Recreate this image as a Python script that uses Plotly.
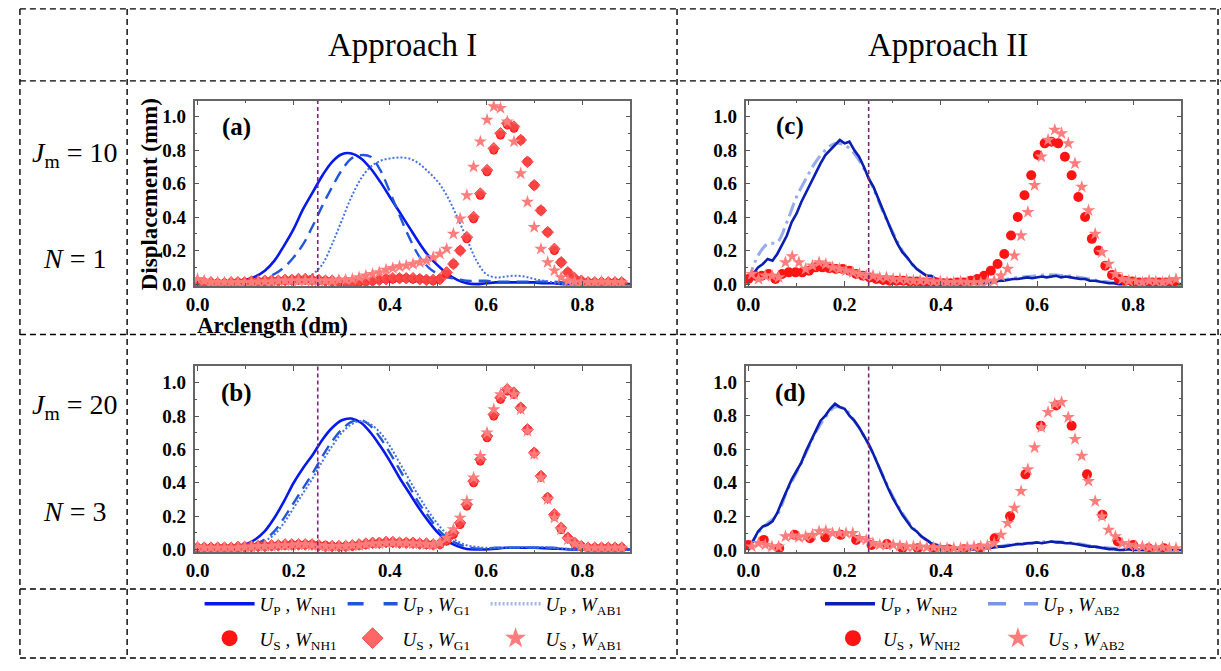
import plotly.graph_objects as go

# ---------------- data ----------------
x_line_coarse = [round(0.02 * i, 2) for i in range(46)]      # 0.00 .. 0.90
x_line_fine = [round(0.01 * i, 2) for i in range(91)]        # 0.00 .. 0.90
x_mark = [round(0.014 * i, 3) for i in range(64)]            # marker stations
x_mark_off = [round(0.007 + 0.014 * i, 3) for i in range(64)]
x_mark_sparse = [round(0.032 * k, 3) for k in range(28)]

cutoff_x = 0.25

# Panel (a): Approach I, Jm=10, N=1
a_up_nh1 = [0.0, 0.0, 0.0, 0.005, 0.01, 0.025, 0.045, 0.08, 0.14, 0.23, 0.33, 0.45, 0.55, 0.65, 0.73, 0.775,
            0.78, 0.75, 0.69, 0.61, 0.52, 0.43, 0.34, 0.25, 0.17, 0.11, 0.06, 0.025, 0.005, 0.0, 0.005, 0.01,
            0.01, 0.01, 0.01, 0.01, 0.005, 0.005, 0.0, 0.0, 0.0, 0.0, 0.0, 0.0, 0.0, 0.0]
a_up_g1 = [0.0, 0.0, 0.0, 0.0, 0.005, 0.01, 0.02, 0.035, 0.06, 0.10, 0.16, 0.24, 0.35, 0.47, 0.58, 0.68,
           0.75, 0.77, 0.76, 0.68, 0.55, 0.41, 0.28, 0.17, 0.10, 0.06, 0.04, 0.03, 0.02, 0.02, 0.02, 0.015,
           0.015, 0.015, 0.015, 0.015, 0.015, 0.015, 0.01, 0.01, 0.005, 0.005, 0.0, 0.0, 0.0, 0.0]
a_up_ab1 = [0.0, 0.0, 0.0, 0.0, 0.0, 0.0, 0.0, 0.0, 0.0, 0.005, 0.015, 0.03, 0.06, 0.12, 0.24, 0.38,
            0.52, 0.63, 0.70, 0.735, 0.75, 0.755, 0.75, 0.72, 0.67, 0.61, 0.52, 0.40, 0.27, 0.14, 0.06, 0.04,
            0.045, 0.05, 0.045, 0.03, 0.02, 0.01, 0.0, 0.0, 0.0, 0.0, 0.0, 0.0, 0.0, 0.0]
a_us_nh1 = [0.01, 0.01, 0.005, 0.005, 0.005, 0.005, 0.01, 0.01, 0.01, 0.015,
            0.015, 0.02, 0.02, 0.02, 0.025, 0.025, 0.025, 0.025, 0.02, 0.02,
            0.015, 0.015, 0.01, 0.01, 0.01, 0.015, 0.02, 0.025, 0.03, 0.03,
            0.035, 0.035, 0.03, 0.03, 0.025, 0.02, 0.03, 0.06, 0.12, 0.20,
            0.27, 0.39, 0.53, 0.67, 0.80, 0.89, 0.95, 0.93, 0.86, 0.73,
            0.59, 0.44, 0.31, 0.20, 0.13, 0.07, 0.03, 0.015, 0.01, 0.01,
            0.01, 0.01, 0.01, 0.01]
a_us_g1 = [0.01, 0.01, 0.01, 0.005, 0.005, 0.01, 0.01, 0.01, 0.015, 0.015,
           0.02, 0.02, 0.02, 0.025, 0.025, 0.03, 0.03, 0.025, 0.025, 0.02,
           0.02, 0.015, 0.015, 0.01, 0.015, 0.015, 0.02, 0.025, 0.03, 0.035,
           0.035, 0.035, 0.035, 0.03, 0.025, 0.025, 0.03, 0.07, 0.12, 0.20,
           0.28, 0.40, 0.54, 0.68, 0.81, 0.90, 0.96, 0.94, 0.86, 0.73,
           0.59, 0.44, 0.31, 0.21, 0.13, 0.07, 0.035, 0.02, 0.01, 0.01,
           0.01, 0.01, 0.01, 0.01]
a_us_ab1 = [0.03, 0.02, 0.01, 0.01, 0.01, 0.01, 0.01, 0.01, 0.01, 0.015,
            0.015, 0.015, 0.02, 0.02, 0.02, 0.02, 0.02, 0.02, 0.02, 0.02,
            0.02, 0.025, 0.025, 0.03, 0.04, 0.05, 0.06, 0.07, 0.085, 0.095,
            0.105, 0.11, 0.12, 0.13, 0.14, 0.16, 0.18, 0.21, 0.30, 0.39,
            0.53, 0.70, 0.85, 0.98, 1.06, 1.05, 0.97, 0.85, 0.66, 0.49,
            0.34, 0.21, 0.13, 0.08, 0.04, 0.02, 0.015, 0.01, 0.01, 0.01,
            0.015, 0.01, 0.01, 0.01]

# Panel (b): Approach I, Jm=20, N=3
b_up_nh1 = [0.0, 0.0, 0.0, 0.005, 0.015, 0.03, 0.06, 0.11, 0.19, 0.29, 0.40, 0.49, 0.57, 0.66, 0.73, 0.775,
            0.785, 0.76, 0.70, 0.62, 0.53, 0.43, 0.34, 0.25, 0.17, 0.10, 0.05, 0.02, 0.003, 0.0, 0.0, 0.005,
            0.01, 0.01, 0.01, 0.01, 0.008, 0.005, 0.003, 0.0, 0.0, 0.0, 0.0, 0.0, 0.0, 0.0]
b_up_g1 = [0.0, 0.0, 0.0, 0.0, 0.005, 0.01, 0.03, 0.06, 0.11, 0.19, 0.28, 0.37, 0.46, 0.56, 0.65, 0.72,
           0.765, 0.775, 0.74, 0.67, 0.58, 0.48, 0.38, 0.28, 0.20, 0.12, 0.07, 0.035, 0.015, 0.005, 0.005, 0.01,
           0.01, 0.01, 0.01, 0.01, 0.01, 0.01, 0.005, 0.0, 0.0, 0.0, 0.0, 0.0, 0.0, 0.0]
b_up_ab1 = [0.0, 0.0, 0.0, 0.0, 0.005, 0.01, 0.02, 0.05, 0.09, 0.16, 0.25, 0.34, 0.43, 0.53, 0.62, 0.70,
            0.75, 0.77, 0.75, 0.70, 0.62, 0.52, 0.42, 0.32, 0.23, 0.15, 0.09, 0.05, 0.025, 0.015, 0.01, 0.01,
            0.01, 0.015, 0.015, 0.015, 0.015, 0.01, 0.005, 0.0, 0.0, 0.0, 0.0, 0.0, 0.0, 0.0]
b_us_nh1 = [0.01, 0.01, 0.01, 0.01, 0.01, 0.01, 0.01, 0.015, 0.015, 0.02,
            0.02, 0.02, 0.025, 0.025, 0.03, 0.03, 0.03, 0.03, 0.025, 0.025,
            0.02, 0.02, 0.02, 0.02, 0.025, 0.03, 0.035, 0.04, 0.04, 0.04,
            0.04, 0.04, 0.04, 0.035, 0.03, 0.03, 0.03, 0.05, 0.09, 0.15,
            0.26, 0.40, 0.53, 0.67, 0.80, 0.90, 0.95, 0.93, 0.85, 0.72,
            0.58, 0.44, 0.31, 0.20, 0.12, 0.07, 0.035, 0.02, 0.01, 0.01,
            0.01, 0.01, 0.01, 0.01]
b_us_g1 = [0.01, 0.01, 0.01, 0.01, 0.01, 0.01, 0.015, 0.015, 0.02, 0.02,
           0.02, 0.025, 0.025, 0.03, 0.03, 0.03, 0.03, 0.03, 0.025, 0.02,
           0.02, 0.02, 0.02, 0.025, 0.03, 0.035, 0.04, 0.04, 0.045, 0.045,
           0.04, 0.04, 0.04, 0.035, 0.035, 0.03, 0.035, 0.06, 0.10, 0.16,
           0.27, 0.41, 0.54, 0.68, 0.81, 0.91, 0.96, 0.94, 0.85, 0.72,
           0.58, 0.44, 0.31, 0.21, 0.13, 0.07, 0.04, 0.02, 0.01, 0.01,
           0.01, 0.01, 0.01, 0.01]
b_us_ab1 = [0.015, 0.01, 0.01, 0.01, 0.01, 0.01, 0.01, 0.015, 0.015, 0.02,
            0.02, 0.02, 0.025, 0.025, 0.025, 0.03, 0.03, 0.025, 0.025, 0.02,
            0.02, 0.02, 0.02, 0.025, 0.025, 0.03, 0.035, 0.035, 0.04, 0.04,
            0.04, 0.04, 0.035, 0.035, 0.03, 0.03, 0.04, 0.07, 0.12, 0.19,
            0.29, 0.43, 0.56, 0.70, 0.84, 0.93, 0.96, 0.93, 0.84, 0.71,
            0.57, 0.43, 0.30, 0.19, 0.12, 0.06, 0.035, 0.02, 0.01, 0.01,
            0.01, 0.01, 0.01, 0.01]

# Panel (c): Approach II, Jm=10, N=1
c_up_nh2 = [0.01, 0.06, 0.10, 0.12, 0.15, 0.14, 0.18, 0.24, 0.29, 0.37,
            0.42, 0.49, 0.55, 0.61, 0.66, 0.72, 0.77, 0.80, 0.83, 0.86,
            0.84, 0.85, 0.80, 0.76, 0.70, 0.63, 0.58, 0.51, 0.43, 0.36,
            0.30, 0.24, 0.19, 0.16, 0.12, 0.09, 0.07, 0.05, 0.05, 0.03,
            0.02, 0.015, 0.01, 0.01, 0.005, 0.005, 0.0, 0.005, 0.0, 0.005,
            0.01, 0.01, 0.02, 0.02, 0.025, 0.03, 0.03, 0.035, 0.04, 0.035,
            0.04, 0.045, 0.04, 0.045, 0.05, 0.04, 0.045, 0.04, 0.035, 0.03,
            0.03, 0.02, 0.02, 0.015, 0.01, 0.005, 0.005, 0.0, 0.0, 0.005,
            0.0, 0.0, 0.0, 0.0, 0.0, 0.0, 0.0, 0.0, 0.0, 0.0, 0.0]
c_up_ab2 = [0.02, 0.17, 0.24, 0.25, 0.37, 0.52, 0.63, 0.73, 0.80, 0.84, 0.83, 0.78, 0.69, 0.57, 0.43, 0.31,
            0.20, 0.12, 0.07, 0.04, 0.025, 0.015, 0.01, 0.01, 0.01, 0.015, 0.02, 0.03, 0.04, 0.045, 0.05, 0.055,
            0.055, 0.05, 0.045, 0.035, 0.025, 0.015, 0.01, 0.01, 0.005, 0.005, 0.0, 0.0, 0.0, 0.0]
c_us_nh2 = [0.03, 0.05, 0.05, 0.06, 0.03, 0.06, 0.07, 0.07, 0.07, 0.08,
            0.10, 0.10, 0.095, 0.09, 0.09, 0.08, 0.06, 0.05, 0.04, 0.03,
            0.025, 0.02, 0.02, 0.02, 0.015, 0.015, 0.01, 0.01, 0.01, 0.005,
            0.005, 0.01, 0.01, 0.02, 0.03, 0.05, 0.08, 0.12, 0.18, 0.29,
            0.40, 0.53, 0.65, 0.77, 0.84, 0.85, 0.84, 0.76, 0.65, 0.52,
            0.40, 0.27, 0.20, 0.11, 0.055, 0.03, 0.02, 0.015, 0.01, 0.01,
            0.01, 0.01, 0.01, 0.01]
c_us_ab2 = [0.06, 0.03, 0.05, 0.05, 0.04, 0.13, 0.165, 0.13, 0.09, 0.11,
            0.13, 0.12, 0.10, 0.09, 0.08, 0.07, 0.06, 0.05, 0.05, 0.04,
            0.04, 0.03, 0.03, 0.025, 0.02, 0.02, 0.02, 0.015, 0.015, 0.01,
            0.01, 0.015, 0.01, 0.01, 0.01, 0.015, 0.02, 0.05, 0.09, 0.17,
            0.29, 0.43, 0.59, 0.76, 0.86, 0.92, 0.90, 0.84, 0.72, 0.58,
            0.44, 0.30, 0.19, 0.12, 0.06, 0.03, 0.02, 0.015, 0.01, 0.02,
            0.015, 0.01, 0.02, 0.03]

# Panel (d): Approach II, Jm=20, N=3
d_up_nh2 = [0.0, 0.06, 0.11, 0.14, 0.15, 0.17, 0.22, 0.29, 0.36, 0.42,
            0.47, 0.52, 0.59, 0.65, 0.71, 0.77, 0.80, 0.84, 0.87, 0.85,
            0.84, 0.80, 0.77, 0.73, 0.68, 0.63, 0.57, 0.50, 0.43, 0.37,
            0.31, 0.26, 0.21, 0.17, 0.13, 0.11, 0.08, 0.06, 0.04, 0.03,
            0.02, 0.015, 0.01, 0.01, 0.005, 0.005, 0.0, 0.005, 0.005, 0.01,
            0.01, 0.015, 0.02, 0.02, 0.025, 0.03, 0.035, 0.035, 0.04, 0.04,
            0.045, 0.04, 0.045, 0.05, 0.045, 0.045, 0.04, 0.04, 0.035, 0.03,
            0.025, 0.02, 0.02, 0.015, 0.01, 0.005, 0.005, 0.0, 0.0, 0.005,
            0.0, 0.0, 0.0, 0.0, 0.0, 0.0, 0.0, 0.0, 0.0, 0.0, 0.0]
d_up_ab2 = [0.01, 0.10, 0.16, 0.21, 0.35, 0.46, 0.58, 0.70, 0.79, 0.85, 0.84, 0.77, 0.68, 0.57, 0.44, 0.32,
            0.22, 0.14, 0.08, 0.045, 0.025, 0.015, 0.01, 0.01, 0.01, 0.015, 0.02, 0.03, 0.035, 0.04, 0.045, 0.05,
            0.05, 0.045, 0.04, 0.03, 0.02, 0.015, 0.01, 0.005, 0.005, 0.0, 0.0, 0.0, 0.0, 0.0]
d_us_nh2 = [0.03, 0.06, 0.01, 0.09, 0.07, 0.075, 0.09, 0.06, 0.03, 0.035, 0.01, 0.01, 0.01, 0.005,
            0.005, 0.01, 0.07, 0.20, 0.45, 0.74, 0.86, 0.74, 0.45, 0.21, 0.05, 0.03, 0.01, 0.01]
d_us_ab2 = [0.02, 0.04, 0.03, 0.02, 0.02, 0.08, 0.085, 0.075, 0.08, 0.09,
            0.11, 0.115, 0.10, 0.10, 0.10, 0.10, 0.07, 0.06, 0.04, 0.03,
            0.03, 0.03, 0.025, 0.02, 0.02, 0.02, 0.015, 0.015, 0.01, 0.01,
            0.01, 0.01, 0.015, 0.02, 0.02, 0.025, 0.04, 0.09, 0.16, 0.25,
            0.35, 0.48, 0.61, 0.73, 0.82, 0.87, 0.88, 0.79, 0.66, 0.56,
            0.41, 0.29, 0.20, 0.12, 0.08, 0.04, 0.03, 0.02, 0.02, 0.015,
            0.01, 0.015, 0.01, 0.01]

# legend labels
lab_up_nh1 = "<i>U</i><sub>P</sub> , <i>W</i><sub>NH1</sub>"
lab_up_g1 = "<i>U</i><sub>P</sub> , <i>W</i><sub>G1</sub>"
lab_up_ab1 = "<i>U</i><sub>P</sub> , <i>W</i><sub>AB1</sub>"
lab_us_nh1 = "<i>U</i><sub>S</sub> , <i>W</i><sub>NH1</sub>"
lab_us_g1 = "<i>U</i><sub>S</sub> , <i>W</i><sub>G1</sub>"
lab_us_ab1 = "<i>U</i><sub>S</sub> , <i>W</i><sub>AB1</sub>"
lab_up_nh2 = "<i>U</i><sub>P</sub> , <i>W</i><sub>NH2</sub>"
lab_up_ab2 = "<i>U</i><sub>P</sub> , <i>W</i><sub>AB2</sub>"
lab_us_nh2 = "<i>U</i><sub>S</sub> , <i>W</i><sub>NH2</sub>"
lab_us_ab2 = "<i>U</i><sub>S</sub> , <i>W</i><sub>AB2</sub>"

# ---------------- styling ----------------
W, H = 1221, 671
SERIF = "Liberation Serif"


def px(v):  # window pixel -> paper x
    return v / W


def py(v):  # window pixel -> paper y
    return 1 - v / H


C_NH1 = "rgb(5,25,235)"
C_G1 = "rgb(35,85,215)"
C_AB1 = "rgb(70,115,225)"
C_NH2 = "rgb(10,30,175)"
C_AB2 = "rgb(150,172,235)"
C_CIRC = "rgb(255,20,20)"
C_STAR = "rgb(255,125,125)"
C_VLINE = "rgb(120,40,120)"

LINE_NH1 = dict(color=C_NH1, width=2.6)
LINE_G1 = dict(color=C_G1, width=2.4, dash="12px,7px")
LINE_AB1 = dict(color=C_AB1, width=2.0, dash="2px,2px")
LINE_NH2 = dict(color=C_NH2, width=2.6)
LINE_AB2 = dict(color=C_AB2, width=3.0, dash="14px,5px,3px,5px")

MK_CIRC = dict(symbol="circle", color=C_CIRC, size=9)
MK_DIAM = dict(symbol="diamond", color="rgba(255,75,75,0.85)", size=9,
               line=dict(color="rgb(235,50,50)", width=0.8))
MK_STAR = dict(symbol="star", color=C_STAR, size=10)

fig = go.Figure()

panels = [
    ("x", "y", "I", (a_up_nh1, a_up_g1, a_up_ab1), (a_us_nh1, a_us_g1, a_us_ab1)),
    ("x2", "y2", "I", (b_up_nh1, b_up_g1, b_up_ab1), (b_us_nh1, b_us_g1, b_us_ab1)),
    ("x3", "y3", "II", (c_up_nh2, c_up_ab2), (c_us_nh2, c_us_ab2)),
    ("x4", "y4", "II", (d_up_nh2, d_up_ab2), (d_us_nh2, d_us_ab2)),
]

for xa, ya, appr, lines, marks in panels:
    if appr == "I":
        up_nh, up_g, up_ab = lines
        us_nh, us_g, us_ab = marks
        fig.add_trace(go.Scatter(x=x_line_coarse, y=up_nh, mode="lines", line=LINE_NH1, line_shape="spline",
                                 xaxis=xa, yaxis=ya, showlegend=False))
        fig.add_trace(go.Scatter(x=x_line_coarse, y=up_g, mode="lines", line=LINE_G1, line_shape="spline",
                                 xaxis=xa, yaxis=ya, showlegend=False))
        fig.add_trace(go.Scatter(x=x_line_coarse, y=up_ab, mode="lines", line=LINE_AB1, line_shape="spline",
                                 xaxis=xa, yaxis=ya, showlegend=False))
        fig.add_trace(go.Scatter(x=x_mark, y=us_nh, mode="markers", marker=MK_CIRC,
                                 xaxis=xa, yaxis=ya, showlegend=False))
        fig.add_trace(go.Scatter(x=x_mark, y=us_g, mode="markers", marker=MK_DIAM,
                                 xaxis=xa, yaxis=ya, showlegend=False))
        fig.add_trace(go.Scatter(x=x_mark, y=us_ab, mode="markers", marker=MK_STAR,
                                 xaxis=xa, yaxis=ya, showlegend=False))
    else:
        up_nh, up_ab = lines
        us_nh, us_ab = marks
        fig.add_trace(go.Scatter(x=x_line_coarse, y=up_ab, mode="lines", line=LINE_AB2, line_shape="spline",
                                 xaxis=xa, yaxis=ya, showlegend=False))
        fig.add_trace(go.Scatter(x=x_line_fine, y=up_nh, mode="lines", line=LINE_NH2,
                                 xaxis=xa, yaxis=ya, showlegend=False))
        xc = x_mark if xa == "x3" else x_mark_sparse
        fig.add_trace(go.Scatter(x=xc, y=us_nh, mode="markers", marker=dict(MK_CIRC, size=10),
                                 xaxis=xa, yaxis=ya, showlegend=False))
        fig.add_trace(go.Scatter(x=x_mark_off, y=us_ab, mode="markers", marker=MK_STAR,
                                 xaxis=xa, yaxis=ya, showlegend=False))


# legend-only entries (no data)
def leg_line(name, line, legend):
    fig.add_trace(go.Scatter(x=[None], y=[None], mode="lines", name=name, line=dict(line, width=3.5),
                             legend=legend, showlegend=True, xaxis="x", yaxis="y"))


def leg_mark(name, marker, legend):
    fig.add_trace(go.Scatter(x=[None], y=[None], mode="markers", name=name, marker=dict(marker, size=16),
                             legend=legend, showlegend=True, xaxis="x", yaxis="y"))


leg_line(lab_up_nh1, LINE_NH1, "legend")
leg_line(lab_up_g1, dict(LINE_G1, dash="16px,20px"), "legend")
leg_line(lab_up_ab1, dict(LINE_AB1, color="rgb(160,180,240)"), "legend")
leg_mark(lab_us_nh1, MK_CIRC, "legend2")
leg_mark(lab_us_g1, MK_DIAM, "legend2")
leg_mark(lab_us_ab1, MK_STAR, "legend2")
leg_line(lab_up_nh2, LINE_NH2, "legend3")
leg_line(lab_up_ab2, dict(LINE_AB2, color="rgb(120,150,230)", dash="18px,18px"), "legend3")
leg_mark(lab_us_nh2, MK_CIRC, "legend4")
leg_mark(lab_us_ab2, MK_STAR, "legend4")

# ---------------- axes ----------------
TICKFONT = dict(family=SERIF, size=19, color="black", weight="bold")


def xax(domain, anchor):
    return dict(domain=domain, anchor=anchor, range=[-0.006, 0.9], tick0=0, dtick=0.2, tickformat=".1f",
                ticks="inside", ticklen=5, tickwidth=1.2, tickcolor="#555",
                minor=dict(dtick=0.1, ticks="inside", ticklen=3, tickcolor="#555"),
                showline=True, linecolor="#666", linewidth=1.5, mirror="ticks",
                showgrid=False, zeroline=False, tickfont=TICKFONT, ticklabelstandoff=0)


def yax(domain, anchor, rng):
    return dict(domain=domain, anchor=anchor, range=rng, tick0=0, dtick=0.2, tickformat=".1f",
                ticks="inside", ticklen=5, tickwidth=1.2, tickcolor="#555",
                minor=dict(dtick=0.1, ticks="inside", ticklen=3, tickcolor="#555"),
                showline=True, linecolor="#666", linewidth=1.5, mirror="ticks",
                showgrid=False, zeroline=False, tickfont=TICKFONT, ticklabelstandoff=3)


dom_x_left = [px(187), px(626)]
dom_x_right = [px(742), px(1181)]
dom_y_top = [py(290), py(102)]
dom_y_bot = [py(560), py(371)]

layout = dict(
    width=W, height=H, margin=dict(l=0, r=0, t=0, b=0),
    paper_bgcolor="white", plot_bgcolor="white",
    xaxis=xax(dom_x_left, "y"), yaxis=yax(dom_y_top, "x", [-0.012, 1.095]),
    xaxis2=xax(dom_x_left, "y2"), yaxis2=yax(dom_y_bot, "x2", [-0.018, 1.1]),
    xaxis3=xax(dom_x_right, "y3"), yaxis3=yax(dom_y_top, "x3", [-0.012, 1.095]),
    xaxis4=xax(dom_x_right, "y4"), yaxis4=yax(dom_y_bot, "x4", [-0.015, 1.095]),
)

LEGFONT = dict(family=SERIF, size=19, color="black")
common_leg = dict(orientation="h", xanchor="left", yanchor="middle", itemwidth=50, font=LEGFONT,
                  bgcolor="rgba(0,0,0,0)", borderwidth=0, itemsizing="trace", tracegroupgap=0)
layout["legend"] = dict(common_leg, x=px(192), y=py(612), entrywidth=78)
layout["legend2"] = dict(common_leg, x=px(192), y=py(647), entrywidth=78)
layout["legend3"] = dict(common_leg, x=px(817), y=py(612), entrywidth=98)
layout["legend4"] = dict(common_leg, x=px(820), y=py(647), entrywidth=100)

fig.update_layout(**layout)

# vertical reference lines at cutoff_x
for xa, ya in [("x", "y"), ("x2", "y2"), ("x3", "y3"), ("x4", "y4")]:
    fig.add_shape(type="line", xref=xa, yref=ya + " domain", x0=cutoff_x, x1=cutoff_x, y0=0, y1=1,
                  line=dict(color=C_VLINE, width=1.6, dash="4px,3px"), layer="above")

# table grid (dashed)
GRID = dict(color="black", width=1.4, dash="6px,4px")
for yy in [9, 82, 339, 597, 667]:
    fig.add_shape(type="line", xref="paper", yref="paper", x0=px(11), x1=1, y0=py(yy), y1=py(yy), line=GRID)
for xx in [11, 119, 673, 1218]:
    fig.add_shape(type="line", xref="paper", yref="paper", x0=px(xx), x1=px(xx), y0=py(9), y1=py(667), line=GRID)


# texts
def ann(text, x, y, size, bold=False, angle=0):
    fig.add_annotation(text=text, xref="paper", yref="paper", x=px(x), y=py(y), showarrow=False,
                       xanchor="center", yanchor="middle", textangle=angle,
                       font=dict(family=SERIF, size=size, color="black", weight="bold" if bold else "normal"))


ann("Approach I", 396, 46, 33)
ann("Approach II", 946, 46, 33)
ann("<i>J</i><sub>m</sub> = 10", 66, 157, 28)
ann("<i>N</i> = 1", 66, 262, 28)
ann("<i>J</i><sub>m</sub> = 20", 66, 412, 28)
ann("<i>N</i> = 3", 66, 518, 28)
ann("(a)", 229, 129, 25, bold=True)
ann("(b)", 229, 398, 25, bold=True)
ann("(c)", 787, 128, 25, bold=True)
ann("(d)", 787, 398, 25, bold=True)
ann("Displacement (mm)", 141, 197, 23, bold=True, angle=-90)
ann("Arclength (dm)", 265, 330, 23, bold=True)

# the page body's default 8px margin is removed so the figure fills the window exactly
fig.write_html("out.html", config={"displayModeBar": False},
               post_script="document.body.style.margin='0';document.body.style.overflow='hidden';")
